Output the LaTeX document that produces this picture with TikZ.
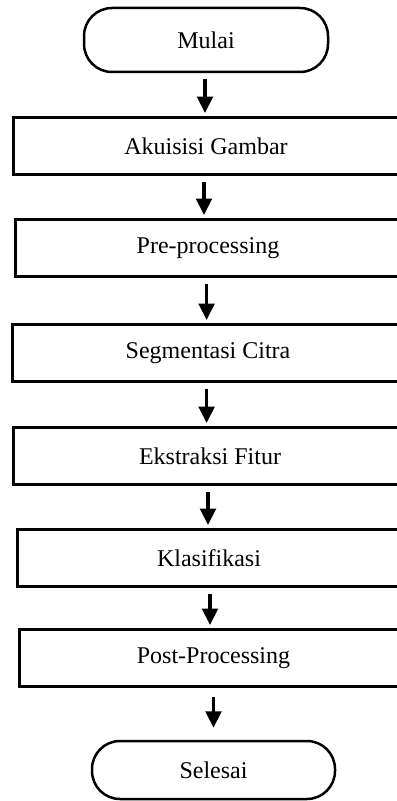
\documentclass[tikz,border=0pt]{standalone}
\usepackage{fontspec}
\setmainfont{Liberation Serif}
\usetikzlibrary{arrows.meta}
\tikzset{
    terminal/.style={draw, line width=1.25pt, rounded corners=14pt, minimum width=122pt, minimum height=32pt, font=\fontsize{12}{14}\selectfont},
    process/.style={draw, line width=1.5pt, minimum height=28.5pt, font=\fontsize{12}{14}\selectfont},
    flow/.style={-{Triangle[width=7.8pt,length=8.2pt]}, line width=1.75pt, shorten <=3pt, shorten >=1.5pt}
}
\begin{document}
\begin{tikzpicture}[x=0.5pt, y=-0.5pt]
    \useasboundingbox (0, 0) rectangle (396, 801);
    % start and end
    \node[terminal] (mulai) at (206, 40) {Mulai};
    \node[terminal, minimum width=121.5pt, minimum height=29pt] (selesai) at (213.5, 770) {Selesai};
    % steps
    \node[process, minimum width=192.5pt] (akuisisi) at (206, 146) {Akuisisi Gambar};
    \node[process, minimum width=193pt] (pre) at (208, 248) {Pre-processing};
    \node[process, minimum width=195.5pt] (segmentasi) at (208, 353) {Segmentasi Citra};
    \node[process, minimum width=196.5pt] (ekstraksi) at (210, 456) {Ekstraksi Fitur};
    \node[process, minimum width=191.5pt] (klasifikasi) at (209, 558) {Klasifikasi};
    \node[process, minimum width=194pt] (post) at (213.5, 658) {Post-Processing};
    % arrows
    \draw[flow] ([xshift=-0.5pt]mulai.south) -- ([xshift=-0.5pt]mulai.south |- akuisisi.north);
    \draw[flow] ([xshift=-1pt]akuisisi.south) -- ([xshift=-1pt]akuisisi.south |- pre.north);
    \draw[flow] ([xshift=-0.7pt]pre.south) -- ([xshift=-0.7pt]pre.south |- segmentasi.north);
    \draw[flow] ([xshift=-0.7pt]segmentasi.south) -- ([xshift=-0.7pt]segmentasi.south |- ekstraksi.north);
    \draw[flow] ([xshift=-1pt]ekstraksi.south) -- ([xshift=-1pt]ekstraksi.south |- klasifikasi.north);
    \draw[flow] ([xshift=0.5pt]klasifikasi.south) -- ([xshift=0.5pt]klasifikasi.south |- post.north);
    \draw[flow, shorten <=4.5pt, shorten >=6pt] (post.south) -- (post.south |- selesai.north);
\end{tikzpicture}
\end{document}
